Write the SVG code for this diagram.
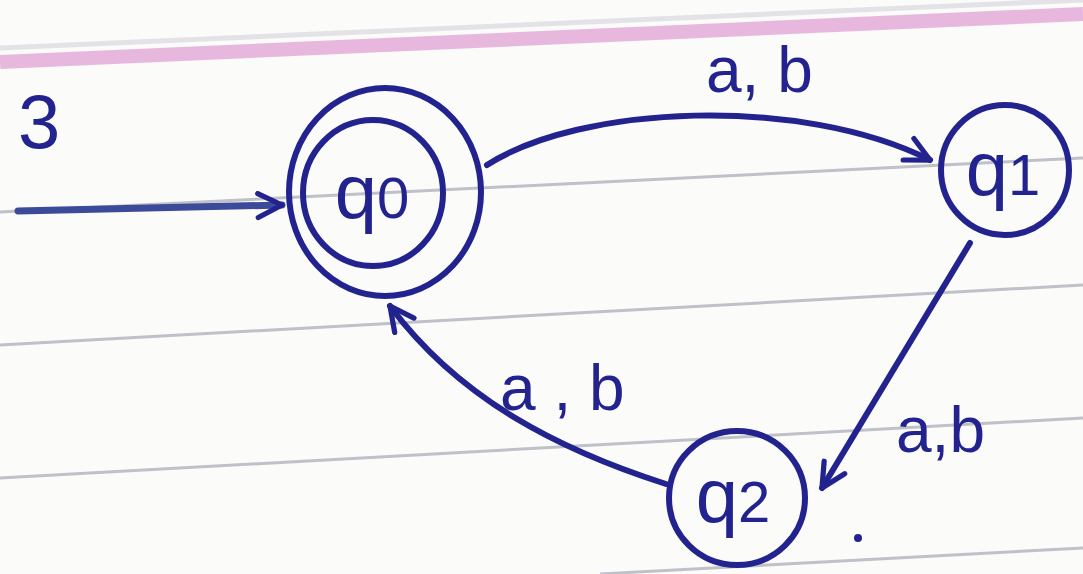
<svg xmlns="http://www.w3.org/2000/svg" width="1083" height="574" viewBox="0 0 1083 574">
<defs>
<style>
.ink{fill:none;stroke:#23238f;stroke-width:6;stroke-linecap:round;stroke-linejoin:round}
.rule{fill:none;stroke:#bfc1c8;stroke-width:3}
.lbl{font-family:"Liberation Sans",Arial,sans-serif;fill:#23238f;font-size:64px}
.st{font-family:"Liberation Sans",Arial,sans-serif;fill:#23238f;font-size:76px}
</style>
<marker id="arr" viewBox="0 0 20 20" refX="18" refY="10" markerWidth="30" markerHeight="30" orient="auto" markerUnits="userSpaceOnUse">
<path d="M2,2 L18,10 L2,18" fill="none" stroke="#23238f" stroke-width="3.5" stroke-linecap="round" stroke-linejoin="round"/>
</marker>
</defs>
<rect width="1083" height="574" fill="#fbfbf9"/>
<g id="paper">
<path d="M0,62 L1083,14" fill="none" stroke="#e2a6d6" stroke-width="14" opacity="0.8"/>
<path d="M0,48 L1083,0" fill="none" stroke="#d8d8e0" stroke-width="5" opacity="0.7"/>
<path class="rule" d="M0,212 L1083,158"/>
<path class="rule" d="M0,345 L1083,285"/>
<path class="rule" d="M0,478 L1083,418"/>
<path class="rule" d="M600,574 L1083,548"/>
</g>
<g id="connectors">
<path d="M18,211 L282,205" fill="none" stroke="#3c4a9a" stroke-width="7" stroke-linecap="round" marker-end="url(#arr)"/>
<path class="ink" d="M487,165 C580,105 800,95 930,160" marker-end="url(#arr)"/>
<path class="ink" d="M970,243 L822,488" marker-end="url(#arr)"/>
<path class="ink" d="M666,484 C560,450 460,400 390,306" marker-end="url(#arr)"/>
<text class="lbl" x="706" y="92">a, b</text>
<text class="lbl" x="896" y="452">a,b</text>
<text class="lbl" x="500" y="410">a , b</text>
</g>
<g id="q0">
<ellipse class="ink" cx="385" cy="192" rx="96" ry="104"/>
<ellipse class="ink" cx="373" cy="193" rx="70" ry="73"/>
<text class="st" x="372" y="218" text-anchor="middle">q<tspan font-size="58">0</tspan></text>
</g>
<g id="q1">
<ellipse class="ink" cx="1005" cy="170" rx="64" ry="65"/>
<text class="st" x="1003" y="195" text-anchor="middle">q<tspan font-size="58">1</tspan></text>
</g>
<g id="q2">
<ellipse class="ink" cx="737" cy="498" rx="68" ry="67"/>
<text class="st" x="733" y="522" text-anchor="middle">q<tspan font-size="58">2</tspan></text>
</g>
<text class="st" x="18" y="148" font-size="58">3</text>
<circle cx="858" cy="538" r="4" fill="#23238f"/>
</svg>
